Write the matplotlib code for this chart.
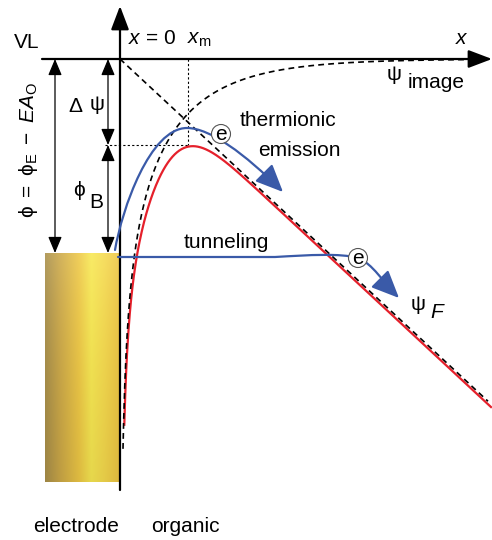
import numpy as np
import matplotlib.pyplot as plt
from matplotlib.path import Path
from matplotlib.patches import FancyArrowPatch, Circle

plt.rcParams['font.family'] = ['Liberation Sans', 'DejaVu Sans']
plt.rcParams['mathtext.fontset'] = 'custom'
plt.rcParams['mathtext.rm'] = 'Liberation Sans'
plt.rcParams['mathtext.it'] = 'Liberation Sans:italic'

# energy scale (schematic units), vacuum level at 0, up is positive
vl_level = 0.0
fermi_level = -194.0
barrier_top = -86.0
x_m = 68.0
field_slope = 0.93          # psi_F = -F x

# dashed image potential  psi_image = -A x^-p exp(-x/L)
img_amp, img_pow, img_len = 586.0, 0.332, 70.0
# red total barrier = psi_F - A x^-p exp(-x^2/w2) + offset
red_amp, red_pow, red_w2, red_offset = 690.0, 0.444, 2893.0, -3.0

# blue electron paths (anchor / control points)
thermo_pts = [(-5, -191), (2, -150), (30, -69), (67, -69),
              (90, -69), (125, -95), (163, -133)]
tunnel_pts = [(-2, -198), (155, -198), (190, -196), (220, -194), (238, -199),
              (252, -204), (264, -224), (279, -239)]
thermo_e = (101, -75)
tunnel_e = (238, -199)

# electrode block and its gold shading
electrode_box = (-75, 0, -423, fermi_level)
gold_stops = [0.0, 0.2, 0.45, 0.62, 0.8, 1.0]
gold_colors = [(0.66, 0.56, 0.29), (0.80, 0.66, 0.28), (0.93, 0.78, 0.27),
               (0.97, 0.91, 0.32), (0.96, 0.85, 0.30), (0.93, 0.77, 0.26)]

blue = '#3a5aa8'
red = '#e5202b'

fig = plt.figure(figsize=(4.92, 5.40), dpi=100)
ax = fig.add_axes([0, 0, 1, 1])
ax.set_xlim(-120, 372)
ax.set_ylim(-481, 59)
ax.axis('off')

# gold electrode
nx, ny = 120, 200
u = np.linspace(0, 1, nx)
v = np.linspace(0, 1, ny)[:, None]
row = np.stack([np.interp(u, gold_stops, [c[i] for c in gold_colors]) for i in range(3)], axis=-1)
img = row[None, :, :] * (1 - 0.07 * v[..., None])
img = img + (1 - img) * 0.12 * (1 - v[..., None]) ** 3
ax.imshow(np.clip(img, 0, 1), extent=electrode_box, aspect='auto', zorder=1)

# axes: vacuum level and x = 0
ax.add_patch(FancyArrowPatch((-78, vl_level), (372, vl_level), arrowstyle='-|>,head_length=1.45,head_width=0.55',
                             mutation_scale=10, lw=1.6, color='black', shrinkA=0, shrinkB=0, zorder=5))
ax.add_patch(FancyArrowPatch((0, -431), (0, 53), arrowstyle='-|>,head_length=1.45,head_width=0.55',
                             mutation_scale=10, lw=1.6, color='black', shrinkA=0, shrinkB=0, zorder=5))

# red barrier
xr = np.linspace(4.3, 371, 800)
ax.plot(xr, -field_slope * xr - red_amp * xr ** -red_pow * np.exp(-xr ** 2 / red_w2) + red_offset,
        color=red, lw=1.6, zorder=3)

# dashed psi_F and psi_image
xf = np.linspace(0, 368, 200)
ax.plot(xf, -field_slope * xf, ls=(0, (3.5, 2.5)), color='black', lw=1.2, zorder=4)
xi = np.linspace(3, 362, 600)
ax.plot(xi, -img_amp * xi ** -img_pow * np.exp(-xi / img_len), ls=(0, (3.5, 2.5)), color='black', lw=1.2, zorder=4)

# dotted guides
ax.plot([x_m, x_m], [vl_level, barrier_top], ls=(0, (2, 2)), color='black', lw=0.8)
ax.plot([-15, x_m], [barrier_top, barrier_top], ls=(0, (2, 2)), color='black', lw=0.8)

# double arrows
def darrow(x, y0, y1):
    ax.add_patch(FancyArrowPatch((x, y0), (x, y1), arrowstyle='<|-|>,head_length=1.0,head_width=0.42',
                                 mutation_scale=10, lw=0.9, color='black', shrinkA=0, shrinkB=0))

darrow(-65, vl_level, fermi_level)
darrow(-12, vl_level, barrier_top)
darrow(-12, barrier_top, fermi_level)

# blue electron paths
def bez_path(pts, first_line=False):
    codes = [Path.MOVETO]
    if first_line:
        codes += [Path.LINETO]
    codes += [Path.CURVE4] * (len(pts) - len(codes))
    return Path(pts, codes)

ax.add_patch(FancyArrowPatch(path=bez_path(thermo_pts), arrowstyle='-|>,head_length=1.7,head_width=0.75',
                             mutation_scale=10, lw=1.6, color=blue, zorder=6))
ax.add_patch(FancyArrowPatch(path=bez_path(tunnel_pts, first_line=True), arrowstyle='-|>,head_length=1.7,head_width=0.75',
                             mutation_scale=10, lw=1.6, color=blue, zorder=6))

for cx, cy in (thermo_e, tunnel_e):
    ax.add_patch(Circle((cx, cy), 9.5, fc='white', ec='#555555', lw=0.8, zorder=7))
    ax.text(cx, cy - 0.5, 'e', ha='center', va='center', fontsize=15, zorder=8)

# labels
fs = 15
ax.text(-93, 17, 'VL', ha='center', va='center', fontsize=fs)
ax.text(8, 20, r'$x$ = 0', ha='left', va='center', fontsize=fs)
ax.text(67, 19, r'$x_\mathrm{m}$', ha='left', va='center', fontsize=fs)
ax.text(342, 20, r'$x$', ha='center', va='center', fontsize=fs)
ax.text(274, -16, 'ψ', ha='center', va='center', fontsize=fs)
ax.text(288, -24, 'image', ha='left', va='center', fontsize=fs)
ax.text(-45, -47, 'Δ', ha='center', va='center', fontsize=fs)
ax.text(-23, -45, 'ψ', ha='center', va='center', fontsize=fs)
ax.text(-41, -132, 'ϕ', ha='center', va='center', fontsize=fs)
ax.text(-24, -143, 'B', ha='center', va='center', fontsize=fs)
ax.text(-92, -91, r'$\mathrm{ϕ\ =\ ϕ_E\ -\ }EA_\mathrm{O}$', ha='center', va='center', fontsize=fs, rotation=90)
ax.text(168, -62, 'thermionic', ha='center', va='center', fontsize=fs)
ax.text(179, -91, 'emission', ha='center', va='center', fontsize=fs)
ax.text(106, -183, 'tunneling', ha='center', va='center', fontsize=fs)
ax.text(298, -246, 'ψ', ha='center', va='center', fontsize=fs)
ax.text(318, -253, r'$F$', ha='center', va='center', fontsize=fs)
ax.text(-44, -468, 'electrode', ha='center', va='center', fontsize=fs)
ax.text(65, -468, 'organic', ha='center', va='center', fontsize=fs)

fig.savefig('out.png', dpi=100)
